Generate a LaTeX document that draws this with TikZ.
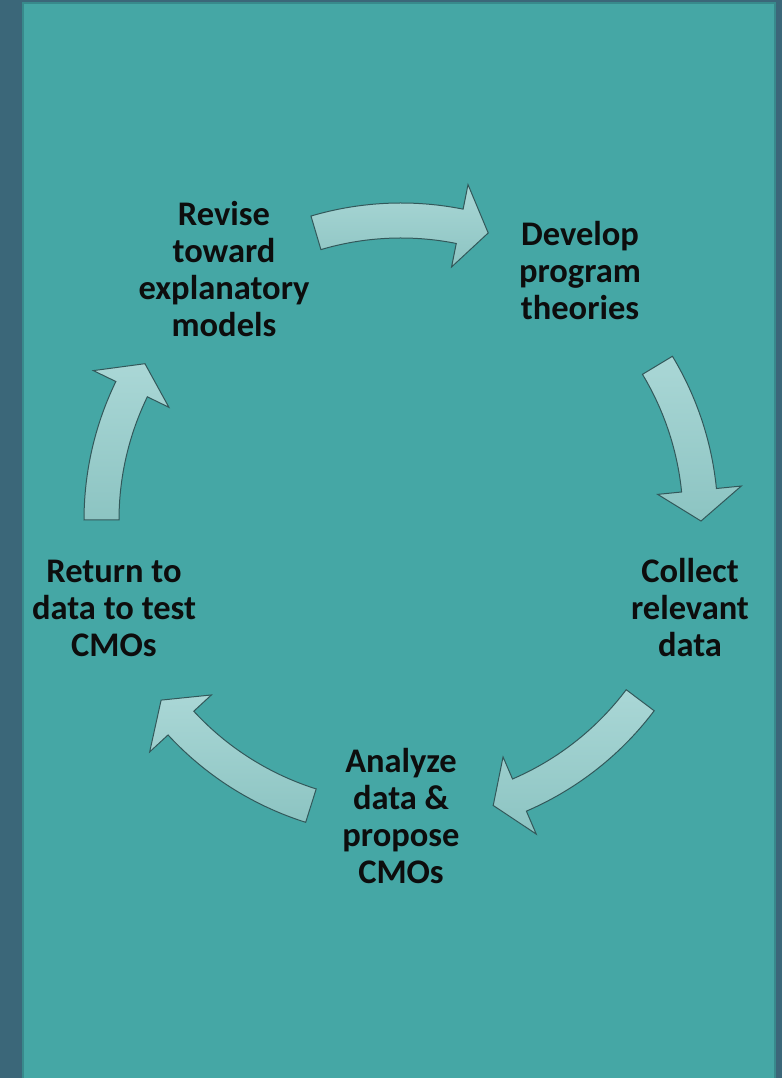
\documentclass[tikz,border=0pt]{standalone}
\usepackage{fontspec}
\setmainfont{Carlito}
\begin{document}
\begin{tikzpicture}[x=1pt,y=1pt]
\definecolor{slate}{RGB}{59,103,121}
\definecolor{panel}{RGB}{69,167,165}
\definecolor{panelrim}{RGB}{56,138,140}
\definecolor{arrowtop}{RGB}{170,215,214}
\definecolor{arrowbot}{RGB}{140,196,194}
\definecolor{arrowline}{RGB}{50,88,90}
\tikzset{
  cyclearrow/.style={draw=arrowline, line width=1pt, line join=miter,
    top color=arrowtop, bottom color=arrowbot},
  stage/.style={font=\fontsize{34.5}{37}\selectfont\bfseries, text=black!95,
    align=center, anchor=north, inner sep=0pt}
}
% curved block arrow on the cycle: tail angle, shaft end angle, tip angle
\newcommand{\bentarrow}[3]{%
  \path[cyclearrow] plot[domain=#1:#2, samples=40] (\x:317) -- (#2:342) -- (#3:300)
    -- (#2:258) -- plot[domain=#2:#1, samples=40] (\x:282) -- cycle;}

% background and panel
\fill[slate] (0,0) rectangle (782,1078);
\useasboundingbox (0,0) rectangle (782,1078);
\draw[panelrim, fill=panel, line width=2pt] (23,-5) rectangle (774.5,1075.2);

% the five arrows around the cycle
\begin{scope}[shift={(401,558)}]
  \bentarrow{106.5}{78.7}{73.1}
  \bentarrow{31.1}{5.7}{-0.2}
  \bentarrow{-37.0}{-66.7}{-72.1}
  \bentarrow{-107.5}{-137.3}{-143.1}
  \bentarrow{180}{154.1}{148.6}
\end{scope}

% stage labels
\node[stage] (revise) at (224,878.9)
  {\strut Revise\\\strut toward\\\strut explanatory\\\strut models};
\node[stage] (develop) at (580,858.9)
  {\strut Develop\\\strut program\\\strut theories};
\node[stage] (collect) at (690,521.9)
  {\strut Collect\\\strut relevant\\\strut data};
\node[stage] (analyze) at (401,331.9)
  {\strut Analyze\\\strut data \&\\\strut propose\\\strut CMOs};
\node[stage] (return) at (114,521.9)
  {\strut Return to\\\strut data to test\\\strut CMOs};
\end{tikzpicture}
\end{document}
